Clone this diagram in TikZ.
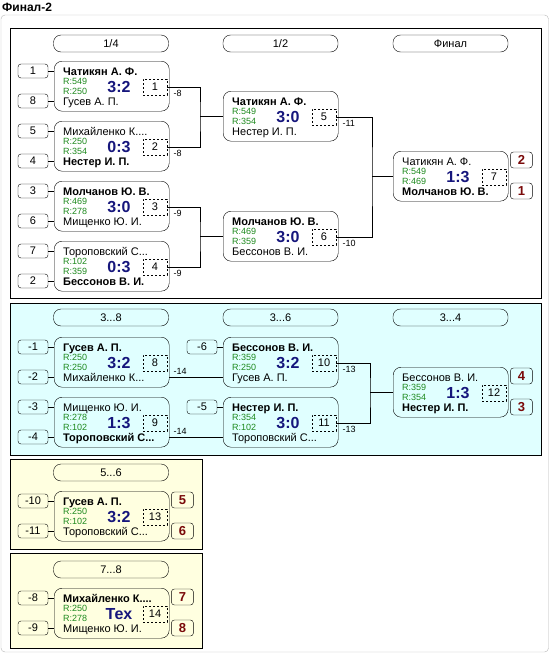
\documentclass[tikz,border=0pt]{standalone}
\usepackage{fontspec}
\setmainfont{Liberation Sans}
\usetikzlibrary{calc,positioning}
\definecolor{scorenavy}{HTML}{16167C}
\definecolor{rategreen}{HTML}{1E8A1E}
\definecolor{placered}{HTML}{7A0A0A}
\definecolor{tintcyan}{HTML}{E0FFFF}
\definecolor{tintcream}{HTML}{FFFFE0}
\newcommand\fs[1]{\fontsize{#1}{#1}\selectfont}
\tikzset{
  panel/.style={draw=black,line width=1pt},
  pill/.style={draw,rounded corners=7.5pt,minimum width=115pt,minimum height=17pt,inner sep=0pt,font=\fs{11}},
  game/.style={draw,rounded corners=8pt,minimum width=115pt,minimum height=50pt,inner sep=0pt,anchor=north west},
  pname/.style={anchor=base west,inner sep=0pt,font=\fs{11}},
  rate/.style={anchor=base west,inner sep=0pt,font=\fs{9},text=rategreen},
  score/.style={anchor=base,inner sep=0pt,font=\fs{16}\bfseries,text=scorenavy},
  numbox/.style={draw,dash pattern=on 2pt off 2pt,minimum width=24pt,minimum height=16pt,inner sep=0pt,font=\fs{11}},
  seed/.style={draw,rounded corners=3pt,minimum width=30pt,minimum height=14pt,inner sep=0pt,font=\fs{11}},
  place/.style={draw,rounded corners=3pt,minimum width=22pt,minimum height=16pt,inner sep=0pt,font=\fs{13}\bfseries,text=placered},
  outlbl/.style={anchor=base west,inner sep=0pt,font=\fs{9}},
  wire/.style={draw,line width=0.8pt},
}
% one match: id, x, y, top, rating top, rating bottom, score, bottom
\newcommand\bout[8]{%
  \node[game] (m#1) at (#2,#3) {};
  \node[pname] (t#1) at ($(m#1.north west)+(9,14.5)$) {#4};
  \node[rate] (ra#1) at ($(m#1.north west)+(9,23)$) {R:#5};
  \node[rate] (rb#1) at ($(m#1.north west)+(9,33.5)$) {R:#6};
  \node[score] (sc#1) at ($(m#1.north west)+(65,31)$) {#7};
  \node[pname] (b#1) at ($(m#1.north west)+(9,44.5)$) {#8};
  \node[numbox] (n#1) at ($(m#1.north west)+(101,26)$) {#1};
}
% seed box left of a match: name, match, dy, text
\newcommand\seedin[4]{%
  \node[seed] (#1) at ($(#2.north west)+(-21,#3)$) {#4};
  \draw[wire] (#1.east) -- (#1 -| #2.west);
}
\begin{document}
\begin{tikzpicture}[x=1pt,y=-1pt]
\useasboundingbox (0,0) rectangle (550,653);
\fill[white] (0,0) rectangle (550,653);
\node[anchor=base west,inner sep=0pt,font=\fs{12}\bfseries] (title) at (2,12) {Финал-2};
\draw[black!28,fill=white,rounded corners=4pt] (1,15) rectangle (548.5,652);

% panels
\draw[panel,fill=white] (10,28) rectangle (541,298);
\draw[panel,fill=tintcyan] (10,303) rectangle (541,455);
\draw[panel,fill=tintcream] (10,459) rectangle (202,549);
\draw[panel,fill=tintcream] (10,553) rectangle (202,648);

\node[pill] (h1) at (111,43.5) {1/4};
\node[pill] (h2) at (280.5,43.5) {1/2};
\node[pill] (h3) at (450.5,43.5) {Финал};
\node[pill] (h4) at (111,317.5) {3...8};
\node[pill] (h5) at (280.5,317.5) {3...6};
\node[pill] (h6) at (450.5,317.5) {3...4};
\node[pill] (h7) at (111,472.5) {5...6};
\node[pill] (h8) at (111,569.5) {7...8};

% 1/4
\bout{1}{54}{61}{\bfseries Чатикян А. Ф.}{549}{250}{3:2}{Гусев А. П.}
\bout{2}{54}{121}{Михайленко К....}{250}{354}{0:3}{\bfseries Нестер И. П.}
\bout{3}{54}{181}{\bfseries Молчанов Ю. В.}{469}{278}{3:0}{Мищенко Ю. И.}
\bout{4}{54}{241}{Тороповский С...}{102}{359}{0:3}{\bfseries Бессонов В. И.}
\seedin{s1}{m1}{10}{1}  \seedin{s8}{m1}{40}{8}
\seedin{s5}{m2}{10}{5}  \seedin{s4}{m2}{40}{4}
\seedin{s3}{m3}{10}{3}  \seedin{s6}{m3}{40}{6}
\seedin{s7}{m4}{10}{7}  \seedin{s2}{m4}{40}{2}
% 1/2 and final
\bout{5}{223}{91}{\bfseries Чатикян А. Ф.}{549}{354}{3:0}{Нестер И. П.}
\bout{6}{223}{211}{\bfseries Молчанов Ю. В.}{469}{359}{3:0}{Бессонов В. И.}
\bout{7}{393}{151}{Чатикян А. Ф.}{549}{469}{1:3}{\bfseries Молчанов Ю. В.}
\node[place] (p7a) at ($(m7.north east)+(13,9)$) {2};
\node[place] (p7b) at ($(m7.north east)+(13,40)$) {1};

\foreach \m/\t in {1/-8,2/-8,3/-9,4/-9,5/-11,6/-10}
  \node[outlbl] (o\m) at ($(m\m.north east)+(4,35)$) {\t};
\coordinate (j12) at (200,116);
\coordinate (j34) at (200,236);
\coordinate (j56) at (372,176);
\draw[wire] (n1.east) -| (j12) |- (n2.east);
\draw[wire] (j12) -- (j12 -| m5.west);
\draw[wire] (n3.east) -| (j34) |- (n4.east);
\draw[wire] (j34) -- (j34 -| m6.west);
\draw[wire] (n5.east) -| (j56) |- (n6.east);
\draw[wire] (j56) -- (j56 -| m7.west);

% 3...8
\bout{8}{54}{337}{\bfseries Гусев А. П.}{250}{250}{3:2}{Михайленко К...}
\bout{9}{54}{397}{Мищенко Ю. И.}{278}{102}{1:3}{\bfseries Тороповский С...}
\bout{10}{223}{337}{\bfseries Бессонов В. И.}{359}{250}{3:2}{Гусев А. П.}
\bout{11}{223}{397}{\bfseries Нестер И. П.}{354}{102}{3:0}{Тороповский С...}
\bout{12}{393}{367}{Бессонов В. И.}{359}{354}{1:3}{\bfseries Нестер И. П.}
\node[place] (p12a) at ($(m12.north east)+(13,9)$) {4};
\node[place] (p12b) at ($(m12.north east)+(13,40)$) {3};
\seedin{sm1}{m8}{10}{-1}  \seedin{sm2}{m8}{40}{-2}
\seedin{sm3}{m9}{10}{-3}  \seedin{sm4}{m9}{40}{-4}
\seedin{sm6}{m10}{10}{-6}
\seedin{sm5}{m11}{10}{-5}
\node[outlbl] (o8) at ($(m8.north east)+(4,37)$) {-14};
\node[outlbl] (o9) at ($(m9.north east)+(4,37)$) {-14};
\node[outlbl] (o10) at ($(m10.north east)+(4,35)$) {-13};
\node[outlbl] (o11) at ($(m11.north east)+(4,35)$) {-13};
\draw[wire] ($(m8.north east)+(0,40)$) -- ($(m10.north west)+(0,40)$);
\draw[wire] ($(m9.north east)+(0,40)$) -- ($(m11.north west)+(0,40)$);
\coordinate (j1011) at (370,392);
\draw[wire] (n10.east) -| (j1011) |- (n11.east);
\draw[wire] (j1011) -- (j1011 -| m12.west);

% 5...6
\bout{13}{54}{491}{\bfseries Гусев А. П.}{250}{102}{3:2}{Тороповский С...}
\seedin{sm10}{m13}{10}{-10}  \seedin{sm11}{m13}{40}{-11}
\node[place] (p13a) at ($(m13.north east)+(13,9)$) {5};
\node[place] (p13b) at ($(m13.north east)+(13,40)$) {6};

% 7...8
\bout{14}{54}{588}{\bfseries Михайленко К....}{250}{278}{Тех}{Мищенко Ю. И.}
\seedin{sm8}{m14}{10}{-8}  \seedin{sm9}{m14}{40}{-9}
\node[place] (p14a) at ($(m14.north east)+(13,9)$) {7};
\node[place] (p14b) at ($(m14.north east)+(13,40)$) {8};
\end{tikzpicture}
\end{document}
